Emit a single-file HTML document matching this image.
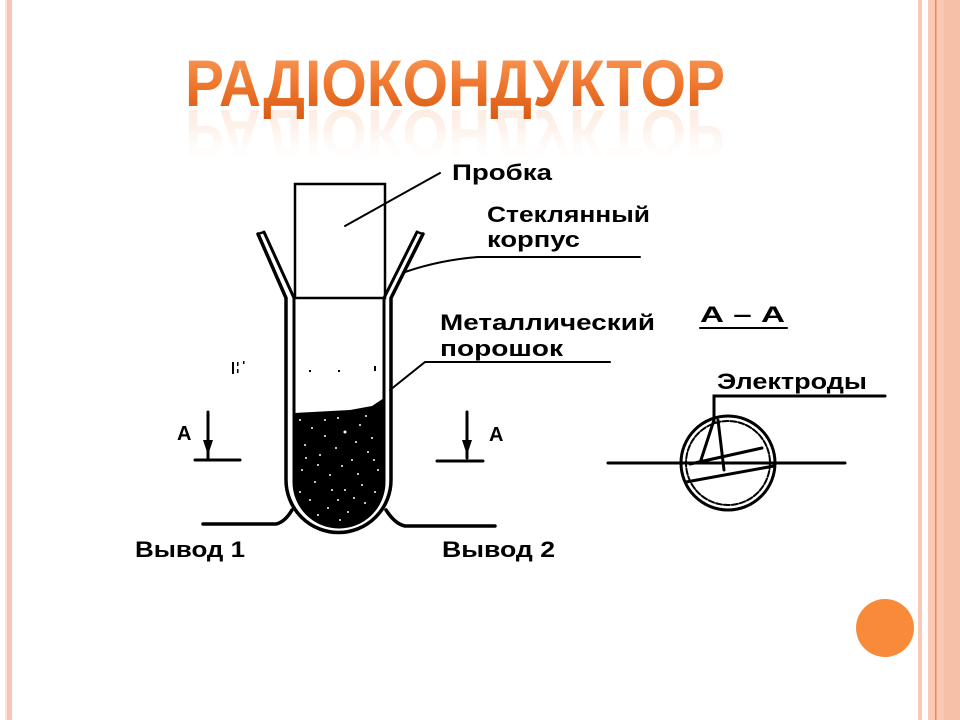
<!DOCTYPE html>
<html><head><meta charset="utf-8"><style>
html,body{margin:0;padding:0;background:#fff;}
body{width:960px;height:720px;overflow:hidden;position:relative;}
</style></head><body>
<svg width="960" height="720" viewBox="0 0 960 720" xmlns="http://www.w3.org/2000/svg" style="position:absolute;left:0;top:0">
<defs>
<linearGradient id="tg" x1="0" y1="0" x2="0" y2="1">
<stop offset="0" stop-color="#f9a060"/><stop offset="0.5" stop-color="#f07830"/><stop offset="1" stop-color="#d85a10"/>
</linearGradient>
<linearGradient id="rg" x1="0" y1="0" x2="0" y2="1">
<stop offset="0" stop-color="#fff" stop-opacity="0"/><stop offset="0.6" stop-color="#f6c0a0" stop-opacity="0.5"/><stop offset="1" stop-color="#f6b890" stop-opacity="0.7"/>
</linearGradient>
</defs>
<rect x="5" y="0" width="2" height="720" fill="#fde3d4"/>
<rect x="7" y="0" width="5" height="720" fill="#f8c5b2"/>
<rect x="918" y="0" width="4" height="720" fill="#f9c9b5"/>
<rect x="928" y="0" width="32" height="720" fill="#f9c9b5"/>
<rect x="935" y="0" width="1.5" height="720" fill="#ee8a50"/>
<rect x="944" y="0" width="16" height="720" fill="#f6c0a8"/>
<circle cx="885" cy="628" r="29" fill="#f98a3a"/>
<g transform="translate(0,216) scale(1,-1)">
<text x="185" y="106" font-family="Liberation Sans, sans-serif" font-weight="bold" font-size="66" fill="url(#rg)" textLength="540" lengthAdjust="spacingAndGlyphs" opacity="0.45">РАДІОКОНДУКТОР</text>
</g>
<text x="185" y="106" font-family="Liberation Sans, sans-serif" font-weight="bold" font-size="66" fill="url(#tg)" textLength="540" lengthAdjust="spacingAndGlyphs">РАДІОКОНДУКТОР</text>
<g fill="none" stroke="#000" stroke-width="3.5" stroke-linecap="round">
<path d="M294 413 L350 410 L372 406 L384 398 L384 482 A45 45 0 0 1 294 482 Z" fill="#000" stroke="none"/>
<rect x="295" y="184" width="90" height="114" stroke-width="2.5"/>
<path d="M258 234 L286 298 L286 480 A52.5 52.5 0 0 0 391 480 L391 298 L423 234"/>
<path d="M264 232 L294 298 L294 482 A45 45 0 0 0 384 482 L384 298 L417 232" stroke-width="3"/>
<path d="M258 234 L264 232 M423 234 L417 232" stroke-width="2.5"/>
<path d="M345 226 L440 173" stroke-width="2"/>
<path d="M405 272 Q440 260 478 257 L640 257" stroke-width="2"/>
<path d="M390 390 L425 362 L610 362" stroke-width="2"/>
<path d="M292 510 Q285 522 276 524 L203 524"/>
<path d="M386 510 Q395 524 405 526 L495 526"/>
<path d="M208 412 L208 458 M195 460 L240 460" stroke-width="3"/>
<path d="M467 412 L467 458 M437 461 L483 461" stroke-width="3"/>
</g>
<path d="M203 440 L213 440 L208 455 Z" fill="#000"/>
<path d="M462 440 L472 440 L467 455 Z" fill="#000"/>
<g fill="#000"><rect x="232" y="362" width="2" height="12"/><rect x="237" y="362" width="1.5" height="4"/><rect x="237" y="369" width="1.5" height="4"/><rect x="243" y="361" width="1.5" height="3"/><rect x="309" y="370" width="2" height="2"/><rect x="338" y="370" width="2" height="2"/><rect x="374" y="366" width="2" height="5"/></g>
<g fill="#fff">
<circle cx="300" cy="420" r="1"/><circle cx="312" cy="428" r="1"/><circle cx="325" cy="420" r="1"/><circle cx="345" cy="432" r="1.5"/><circle cx="360" cy="425" r="1"/><circle cx="372" cy="438" r="1"/><circle cx="305" cy="445" r="1"/><circle cx="320" cy="455" r="1"/><circle cx="336" cy="448" r="1"/><circle cx="352" cy="460" r="1"/><circle cx="368" cy="452" r="1"/><circle cx="378" cy="470" r="1"/><circle cx="302" cy="470" r="1"/><circle cx="315" cy="482" r="1"/><circle cx="330" cy="475" r="1"/><circle cx="345" cy="490" r="1"/><circle cx="362" cy="485" r="1"/><circle cx="310" cy="500" r="1"/><circle cx="328" cy="508" r="1"/><circle cx="348" cy="512" r="1"/><circle cx="365" cy="503" r="1"/><circle cx="375" cy="492" r="1"/><circle cx="300" cy="492" r="1"/><circle cx="338" cy="500" r="1"/><circle cx="325" cy="436" r="1"/><circle cx="356" cy="442" r="1"/>
<circle cx="318" cy="465" r="1"/><circle cx="342" cy="466" r="1"/><circle cx="358" cy="474" r="1"/><circle cx="306" cy="458" r="1"/><circle cx="374" cy="460" r="1"/><circle cx="332" cy="490" r="1"/><circle cx="354" cy="498" r="1"/><circle cx="318" cy="515" r="1"/><circle cx="340" cy="520" r="1"/><circle cx="366" cy="416" r="1"/><circle cx="338" cy="418" r="1"/>
</g>
<g fill="none" stroke="#000" stroke-width="3" stroke-linecap="round">
<circle cx="728" cy="463" r="47"/>
<circle cx="728" cy="463" r="42" stroke-width="2" stroke-dasharray="6 2"/>
<path d="M608 463 L845 463"/>
<path d="M714 422 L714 396 L885 396"/>
<path d="M714 420 L700 463 M718 420 L724 470 M690 464 L762 448 M686 482 L774 466"/>
<path d="M700 328 L787 328" stroke-width="2"/>
</g>
<g font-family="Liberation Sans, sans-serif" font-weight="bold" font-size="22" fill="#000">
<text x="452" y="180" textLength="100" lengthAdjust="spacingAndGlyphs">Пробка</text>
<text x="487" y="222" textLength="163" lengthAdjust="spacingAndGlyphs">Стеклянный</text>
<text x="487" y="247" textLength="93" lengthAdjust="spacingAndGlyphs">корпус</text>
<text x="440" y="330" textLength="215" lengthAdjust="spacingAndGlyphs">Металлический</text>
<text x="440" y="356" textLength="123" lengthAdjust="spacingAndGlyphs">порошок</text>
<text x="717" y="389" textLength="150" lengthAdjust="spacingAndGlyphs">Электроды</text>
<text x="700" y="322" textLength="85" lengthAdjust="spacingAndGlyphs">А – А</text>
<text x="135" y="557" textLength="110" lengthAdjust="spacingAndGlyphs">Вывод 1</text>
<text x="442" y="557" textLength="113" lengthAdjust="spacingAndGlyphs">Вывод 2</text>
<text x="177" y="440" font-size="20">А</text>
<text x="489" y="441" font-size="20">А</text>
</g>
</svg>
</body></html>
